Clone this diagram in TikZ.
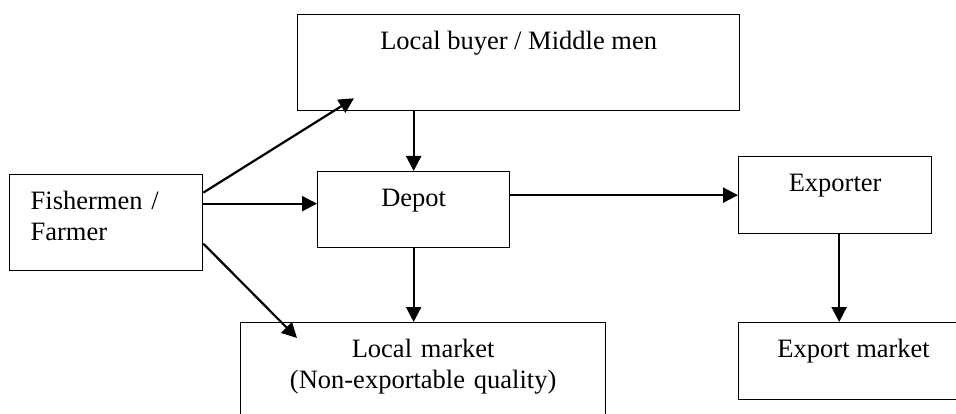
\documentclass[tikz,border=0pt]{standalone}
\usepackage{fontspec}
\setmainfont{Liberation Serif}
\usetikzlibrary{arrows.meta}

\begin{document}
\begin{tikzpicture}[x=1pt, y=-1pt, line width=1.3pt,
    box/.style={draw, rectangle, anchor=north west, inner sep=0pt, text height=35pt,
      font=\fontsize{26.5}{30.5}\selectfont},
    flow/.style={-{Triangle[length=15pt, width=15pt]}, line width=2.2pt}]
  \useasboundingbox (0,0) rectangle (956,414);
  \clip (0,0) rectangle (956,414);
  % boxes
  \node[box, minimum width=442pt, text depth=61pt] (buyer) at (297,14) {Local buyer / Middle men};
  \node[box, inner xsep=21pt, text width=151pt, align=left, text depth=61pt] (fisher) at (9,174) {Fishermen /\\Farmer};
  \node[box, minimum width=192pt, text depth=41pt] (depot) at (317,171) {Depot};
  \node[box, minimum width=193pt, text depth=42pt] (exporter) at (738,156) {Exporter};
  \node[box, text width=365pt, align=center, text depth=75pt] (market) at (240,322) {Local market\\(Non-exportable quality)};
  \node[box, minimum width=230pt, text depth=42pt] (expmarket) at (738,322) {Export market};
  % arrows
  \draw[flow] ([yshift=30pt]fisher.east) -- ([xshift=57pt, yshift=13pt]buyer.south west);
  \draw[flow] ([yshift=19pt]fisher.east) -- ([yshift=6pt]depot.west);
  \draw[flow] ([yshift=-21pt]fisher.east) -- ([xshift=57pt, yshift=-16pt]market.north west);
  \draw[flow] (buyer.south -| depot.north) -- (depot.north);
  \draw[flow] (depot.south) -- (depot.south |- market.north);
  \draw[flow] (depot.east |- exporter.west) -- (exporter.west);
  \draw[flow] ([xshift=4pt]exporter.south) -- ([xshift=4pt]exporter.south |- expmarket.north);
\end{tikzpicture}
\end{document}
